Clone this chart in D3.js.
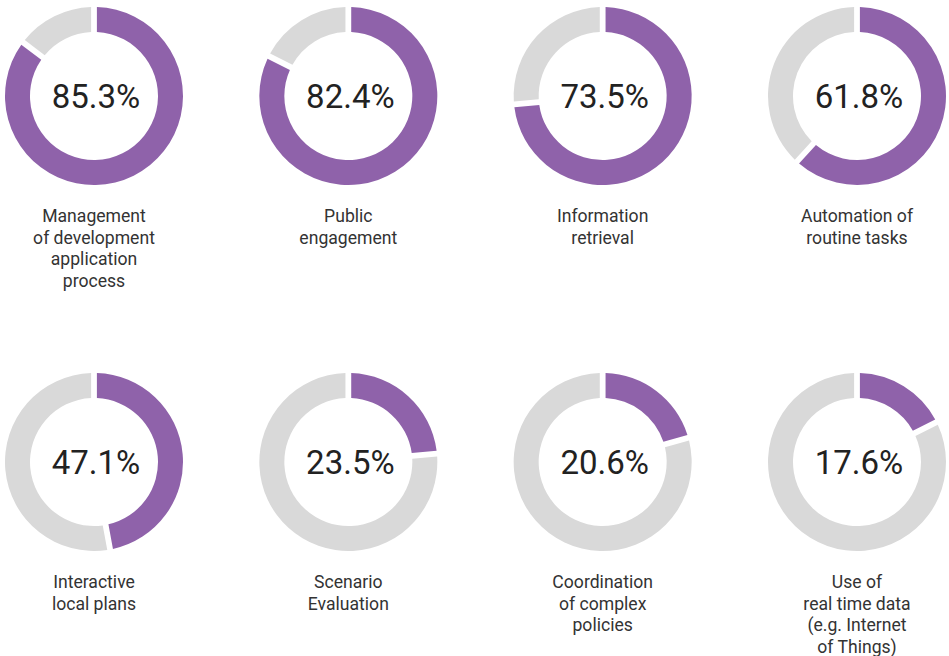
<!DOCTYPE html>
<html>
<head>
<meta charset="utf-8">
<script src="https://cdn.jsdelivr.net/npm/d3@7"></script>
<style>
	body { margin: 0; background: #fff; }
	text { font-family: Roboto, "Noto Sans", sans-serif; }
</style>
</head>
<body>
<div id="visDiv"></div>
<script>
(function () {

	// DATA
	var categories = [
		["Management", "of development", "application", "process"],
		["Public", "engagement"],
		["Information", "retrieval"],
		["Automation of", "routine tasks"],
		["Interactive", "local plans"],
		["Scenario", "Evaluation"],
		["Coordination", "of complex", "policies"],
		["Use of", "real time data", "(e.g. Internet", "of Things)"]
	];
	var values = [85.3, 82.4, 73.5, 61.8, 47.1, 23.5, 20.6, 17.6];

	// DEFS
	var w = 949, h = 656,
		cols = 4,
		colX = d3.scaleLinear().domain([0, cols - 1]).range([94, 857]),
		rowY = d3.scaleLinear().domain([0, 1]).range([96, 462]),
		rOuter = 89, rInner = 64,
		purple = "#8f62aa", grey = "#d9d9d9";

	var svg = d3.select('#visDiv')
		.append('svg')
			.attr('width', w)
			.attr('height', h);

	var pie = d3.pie().sort(null).value(function(d) { return d; });
	var arc = d3.arc()
		.innerRadius(rInner)
		.outerRadius(rOuter)
		.padAngle(0.065)
		.padRadius(rOuter);

	values.forEach(function(v, i) {
		var g = svg.append('g')
			.attr('transform', 'translate(' + colX(i % cols) + ',' + rowY(Math.floor(i / cols)) + ')');

		g.selectAll('path')
			.data(pie([v, 100 - v]))
			.enter().append('path')
				.attr('fill', function(d, j) { return j === 0 ? purple : grey; })
				.attr('d', arc);

		g.append('text')
			.attr('text-anchor', 'middle')
			.attr('x', 2)
			.attr('dy', '0.35em')
			.attr('font-size', 33)
			.attr('fill', '#222')
			.text(v.toFixed(1) + '%');

		var lab = g.append('text')
			.attr('text-anchor', 'middle')
			.attr('font-size', 17.6)
			.attr('fill', '#333');
		lab.selectAll('tspan')
			.data(categories[i])
			.enter().append('tspan')
				.attr('x', 0)
				.attr('y', function(d, k) { return 126 + k * 21.5; })
				.text(function(d) { return d; });
	});

}());
</script>
</body>
</html>
